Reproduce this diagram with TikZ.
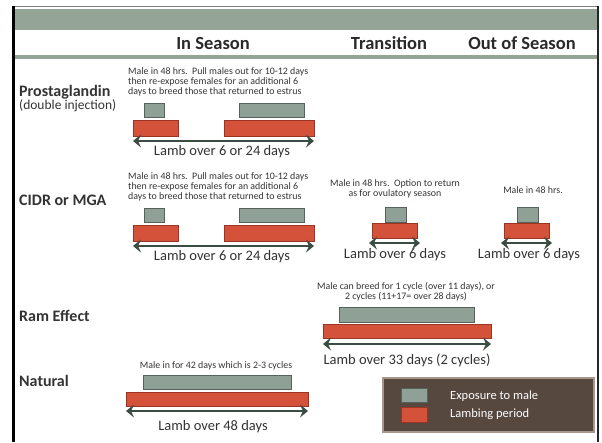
\documentclass[tikz,border=0pt]{standalone}
\usepackage{fontspec}
\setmainfont{Carlito}
\usetikzlibrary{arrows.meta}
\definecolor{sage}{HTML}{8FA096}
\definecolor{band}{HTML}{94A598}
\definecolor{sagedk}{HTML}{56625A}
\definecolor{brick}{HTML}{D5523A}
\definecolor{brickdk}{HTML}{9A3524}
\definecolor{pine}{HTML}{3B4D42}
\definecolor{ink}{HTML}{333333}
\definecolor{bark}{HTML}{56473F}
\definecolor{barkln}{HTML}{A8968A}

\begin{document}
\begin{tikzpicture}[x=1pt,y=-1pt,
    wh/.style 2 args={minimum width=#1,minimum height=#2},
    expbar/.style={draw=sagedk,fill=sage,line width=0.6pt,inner sep=0pt,outer sep=0pt,anchor=north west},
    lambbar/.style={draw=brickdk,fill=brick,line width=0.6pt,inner sep=0pt,outer sep=0pt,anchor=north west},
    spanarrow/.style={{Stealth[length=8pt,width=13pt,inset=3pt]}-{Stealth[length=8pt,width=13pt,inset=3pt]},line width=2.8pt,pine},
    note/.style={inner sep=0pt,text=ink,font=\fontsize{9.9}{10.3}\selectfont},
    lamblab/.style={inner sep=0pt,text=ink,font=\fontsize{14.5}{16}\selectfont},
    rowlab/.style={inner sep=0pt,anchor=west,text=ink,font=\fontsize{16}{17}\selectfont\bfseries},
    headlab/.style={inner sep=0pt,text=ink!80!black,font=\fontsize{18.5}{20}\selectfont\bfseries}]
  \useasboundingbox (0,0) rectangle (602,442);
  % frame and header bands
  \fill[band] (15,9) rectangle (597,30);
  \fill[band] (15,55) rectangle (597,59);
  \draw[gray,line width=1.5pt] (12,6.5) -- (598,6.5);
  \draw[black,line width=3pt] (13.5,6) -- (13.5,442);
  \draw[black!85,line width=1.2pt] (598,6) -- (598,442);
  \node[headlab] (hIn) at (213,43) {In Season};
  \node[headlab] (hTr) at (389,43) {Transition};
  \node[headlab] (hOut) at (522,43) {Out of Season};
  % row labels
  \node[rowlab] (rPg) at (19,92) {Prostaglandin};
  \node[rowlab,font=\fontsize{13.5}{15}\selectfont] (rPgSub) at (19,106) {(double injection)};
  \node[rowlab] (rCidr) at (19,200) {CIDR or MGA};
  \node[rowlab] (rRam) at (19,316) {Ram Effect};
  \node[rowlab] (rNat) at (19,381) {Natural};
  % prostaglandin, in season
  \node[note,anchor=west,align=left] (pgNote) at (128,82)
    {Male in 48 hrs.\ \ Pull males out for 10-12 days\\then re-expose females for an additional 6\\days to breed those that returned to estrus};
  \node[expbar,wh={20}{14}] (pgE1) at (144,103) {};
  \node[expbar,wh={65}{14}] (pgE2) at (239,103) {};
  \node[lambbar,wh={45}{16}] (pgL1) at (133,120) {};
  \node[lambbar,wh={90}{16}] (pgL2) at (224,120) {};
  \draw[spanarrow] ([yshift=-5pt]pgL1.south west) -- ([yshift=-5pt]pgL2.south east);
  \node[lamblab] (pgLab) at (222,152) {Lamb over 6 or 24 days};
  % cidr or mga, in season
  \node[note,anchor=west,align=left] (ciNote) at (128,187)
    {Male in 48 hrs.\ \ Pull males out for 10-12 days\\then re-expose females for an additional 6\\days to breed those that returned to estrus};
  \node[expbar,wh={20}{14}] (ciE1) at (144,208) {};
  \node[expbar,wh={65}{14}] (ciE2) at (239,208) {};
  \node[lambbar,wh={45}{16}] (ciL1) at (133,225) {};
  \node[lambbar,wh={90}{16}] (ciL2) at (224,225) {};
  \draw[spanarrow] ([yshift=-5pt]ciL1.south west) -- ([yshift=-5pt]ciL2.south east);
  \node[lamblab] (ciLab) at (222,257) {Lamb over 6 or 24 days};
  % cidr or mga, transition
  \node[note,align=center] (trNote) at (395,189)
    {Male in 48 hrs.\ \ Option to return\\as for ovulatory season};
  \node[expbar,wh={21}{15}] (trE) at (385,207) {};
  \node[lambbar,wh={45}{15}] (trL) at (372,223) {};
  \draw[spanarrow] ([xshift=-3pt,yshift=-5pt]trL.south west) -- ([xshift=3pt,yshift=-5pt]trL.south east);
  \node[lamblab] (trLab) at (395,255) {Lamb over 6 days};
  % cidr or mga, out of season
  \node[note] (osNote) at (533,190) {Male in 48 hrs.};
  \node[expbar,wh={21}{15}] (osE) at (517,207) {};
  \node[lambbar,wh={45}{15}] (osL) at (504,223) {};
  \draw[spanarrow] ([xshift=-3pt,yshift=-5pt]osL.south west) -- ([xshift=3pt,yshift=-5pt]osL.south east);
  \node[lamblab] (osLab) at (529,255) {Lamb over 6 days};
  % ram effect
  \node[note,align=center] (raNote) at (406,292)
    {Male can breed for 1 cycle (over 11 days), or\\2 cycles (11+17= over 28 days)};
  \node[expbar,wh={135}{15}] (raE) at (339,307) {};
  \node[lambbar,wh={168}{14}] (raL) at (323,324) {};
  \draw[spanarrow] ([yshift=-6pt]raL.south west) -- ([yshift=-6pt]raL.south east);
  \node[lamblab] (raLab) at (407,360) {Lamb over 33 days (2 cycles)};
  % natural
  \node[note] (naNote) at (216,366) {Male in for 42 days which is 2-3 cycles};
  \node[expbar,wh={148}{14}] (naE) at (143,375) {};
  \node[lambbar,wh={182}{14}] (naL) at (126,392) {};
  \draw[spanarrow] ([yshift=-5pt]naL.south west) -- ([yshift=-5pt]naL.south east);
  \node[lamblab] (naLab) at (213,427) {Lamb over 48 days};
  % legend
  \node[draw=barkln,fill=bark,line width=1.5pt,inner sep=0pt,anchor=north west,wh={211}{54}] (key) at (382,377) {};
  \node[expbar,wh={26}{14}] (keyE) at (401,388) {};
  \node[lambbar,wh={26}{15}] (keyL) at (401,407) {};
  \node[inner sep=0pt,anchor=west,text=white,font=\fontsize{12.5}{14}\selectfont] (keyEt) at (450,396) {Exposure to male};
  \node[inner sep=0pt,anchor=west,text=white,font=\fontsize{12.5}{14}\selectfont] (keyLt) at (450,414) {Lambing period};
\end{tikzpicture}
\end{document}
